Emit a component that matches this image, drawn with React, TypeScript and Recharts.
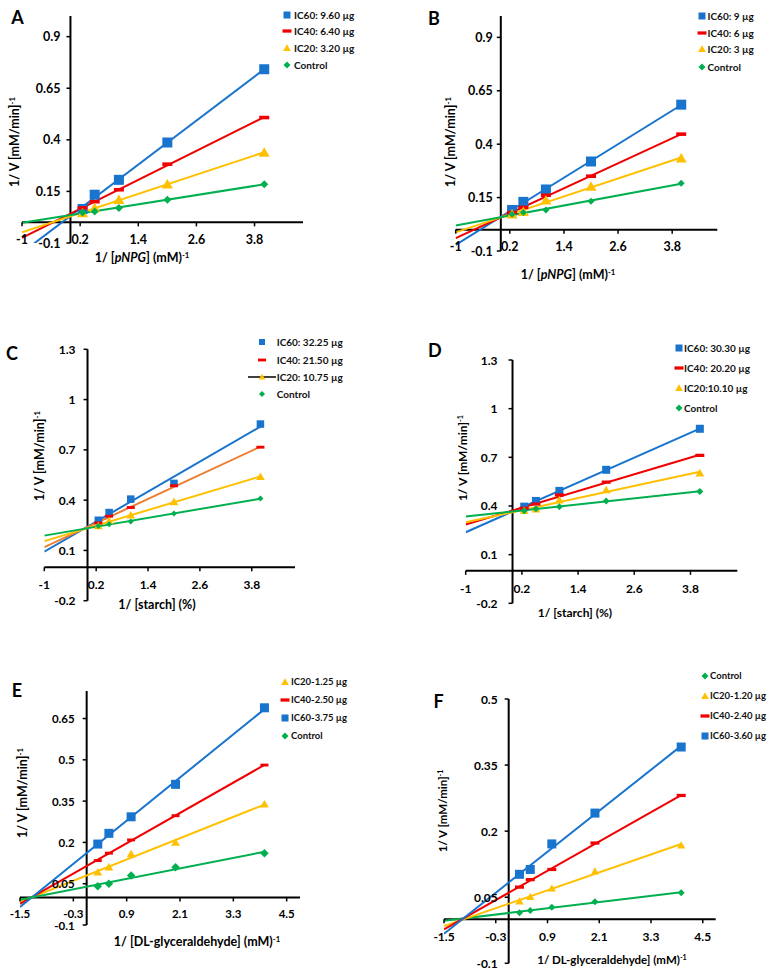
import React from 'react';
import { ComposedChart, XAxis, YAxis, Line, Scatter, ReferenceLine, ReferenceDot, Legend } from 'recharts';

// 1/[S] values used in every panel
const INV_CONC = [0.25, 0.5, 1, 2, 4];

// tick values
const X_TICKS_AD = [-1, 0.2, 1.4, 2.6, 3.8];
const X_TICKS_EF = [-1.5, -0.3, 0.9, 2.1, 3.3, 4.5];
const Y_TICKS_AB = [-0.1, 0.15, 0.4, 0.65, 0.9];
const Y_TICKS_CD = [-0.2, 0.1, 0.4, 0.7, 1, 1.3];
const Y_TICKS_E = [-0.1, 0.05, 0.2, 0.35, 0.5, 0.65];
const Y_TICKS_F = [-0.1, 0.05, 0.2, 0.35, 0.5];

// A - pNPG
const A_LABELS = ['IC60: 9.60 µg', 'IC40: 6.40 µg', 'IC20: 3.20 µg', 'Control'];
const A_IC60 = [0.065, 0.134, 0.206, 0.387, 0.742];
const A_IC40 = [0.07, 0.1, 0.158, 0.282, 0.508];
const A_IC20 = [0.045, 0.069, 0.11, 0.185, 0.339];
const A_CTRL = [0.048, 0.053, 0.069, 0.11, 0.185];

// B - pNPG
const B_LABELS = ['IC60: 9 µg', 'IC40: 6 µg', 'IC20: 3 µg', 'Control'];
const B_IC60 = [0.092, 0.13, 0.188, 0.319, 0.585];
const B_IC40 = [0.08, 0.104, 0.161, 0.25, 0.447];
const B_IC20 = [0.072, 0.084, 0.138, 0.202, 0.334];
const B_CTRL = [0.072, 0.08, 0.092, 0.133, 0.217];

// C - starch
const C_LABELS = ['IC60: 32.25 µg', 'IC40: 21.50 µg', 'IC20: 10.75 µg', 'Control'];
const C_IC60 = [0.28, 0.326, 0.406, 0.5, 0.854];
const C_IC40 = [0.264, 0.304, 0.356, 0.486, 0.716];
const C_IC20 = [0.246, 0.276, 0.31, 0.39, 0.54];
const C_CTRL = [0.246, 0.256, 0.272, 0.32, 0.41];

// D - starch
const D_LABELS = ['IC60: 30.30 µg', 'IC40: 20.20 µg', 'IC20:10.10 µg', 'Control'];
const D_IC60 = [0.396, 0.431, 0.493, 0.623, 0.876];
const D_IC40 = [0.386, 0.412, 0.468, 0.547, 0.712];
const D_IC20 = [0.371, 0.381, 0.437, 0.499, 0.603];
const D_CTRL = [0.371, 0.383, 0.396, 0.431, 0.489];

// E - DL-glyceraldehyde
const E_LABELS = ['IC20-1.25 µg', 'IC40-2.50 µg', 'IC60-3.75 µg', 'Control'];
const E_IC20 = [0.092, 0.11, 0.158, 0.2, 0.339];
const E_IC40 = [0.134, 0.161, 0.209, 0.297, 0.481];
const E_IC60 = [0.194, 0.233, 0.293, 0.411, 0.689];
const E_CTRL = [0.041, 0.05, 0.08, 0.11, 0.161];

// F - DL-glyceraldehyde
const F_LABELS = ['Control', 'IC20-1.20 µg', 'IC40-2.40 µg', 'IC60-3.60 µg'];
const F_CTRL = [0.015, 0.02, 0.027, 0.04, 0.06];
const F_IC20 = [0.041, 0.051, 0.07, 0.109, 0.168];
const F_IC40 = [0.073, 0.09, 0.113, 0.173, 0.281];
const F_IC60 = [0.102, 0.113, 0.171, 0.241, 0.391];

const BLUE = '#1874cd';
const RED = '#f00000';
const ORANGE = '#ed7d31';
const YELLOW = '#ffc000';
const GREEN = '#00b050';
const FONT = "Lato, 'Open Sans', sans-serif";

type Kind = 'square' | 'dash' | 'triangle' | 'diamond';

interface SeriesDef {
  label: string;
  ys: number[];
  color: string;
  lineColor: string;
  kind: Kind;
  size: number;
  legendLine?: boolean;
}

interface PanelDef {
  letter: string;
  left: number;
  top: number;
  w: number;
  h: number;
  plot: { l: number; r: number; t: number; b: number };
  xDomain: [number, number];
  yDomain: [number, number];
  xTicks: number[];
  yTicks: number[];
  tickFont: number;
  yGap: number;
  xDy: number;
  letterPos: [number, number];
  xTitle: React.ReactNode;
  xTitlePos: [number, number];
  yTitlePos: [number, number];
  titleFont: number;
  legend: { mx: number; tx: number; rows: number[]; font: number; msize: number };
  series: SeriesDef[];
}

const sup = (s: string) => (
  <span style={{ fontSize: '0.62em', verticalAlign: '0.55em', lineHeight: 1 }}>{s}</span>
);

const mk = (label: string, ys: number[], kind: Kind, size: number, color: string, lineColor = color): SeriesDef => ({
  label, ys, kind, size, color, lineColor,
});

const PANELS: PanelDef[] = [
  {
    letter: 'A', left: 0, top: 0, w: 384, h: 300,
    plot: { l: 22, r: 303, t: 16, b: 243 },
    xDomain: [-1, 4.8], yDomain: [-0.1, 1.0],
    xTicks: X_TICKS_AD, yTicks: Y_TICKS_AB,
    tickFont: 12.5, yGap: 10, xDy: 17,
    letterPos: [17.5, 17],
    xTitle: <>1/ [<i>pNPG</i>] (mM){sup('-1')}</>, xTitlePos: [142, 258],
    yTitlePos: [15, 142], titleFont: 12.5,
    legend: { mx: 287, tx: 294, rows: [15, 31.3, 48.3, 64.7], font: 10, msize: 7 },
    series: [
      mk(A_LABELS[0], A_IC60, 'square', 10, BLUE),
      mk(A_LABELS[1], A_IC40, 'dash', 10, RED),
      mk(A_LABELS[2], A_IC20, 'triangle', 10, YELLOW),
      mk(A_LABELS[3], A_CTRL, 'diamond', 8, GREEN),
    ],
  },
  {
    letter: 'B', left: 384, top: 0, w: 384, h: 300,
    plot: { l: 71.7, r: 333.3, t: 16, b: 251 },
    xDomain: [-1, 4.8], yDomain: [-0.1, 1.0],
    xTicks: X_TICKS_AD, yTicks: Y_TICKS_AB,
    tickFont: 12.5, yGap: 8, xDy: 17,
    letterPos: [50, 18],
    xTitle: <>1/ [<i>pNPG</i>] (mM){sup('-1')}</>, xTitlePos: [184, 275],
    yTitlePos: [67, 142], titleFont: 12.5,
    legend: { mx: 318.3, tx: 323.5, rows: [16, 33.3, 49.3, 66.7], font: 10, msize: 7 },
    series: [
      mk(B_LABELS[0], B_IC60, 'square', 10, BLUE),
      mk(B_LABELS[1], B_IC40, 'dash', 10, RED),
      mk(B_LABELS[2], B_IC20, 'triangle', 10, YELLOW),
      mk(B_LABELS[3], B_CTRL, 'diamond', 7, GREEN),
    ],
  },
  {
    letter: 'C', left: 0, top: 300, w: 384, h: 330,
    plot: { l: 44.3, r: 295, t: 49.3, b: 300.7 },
    xDomain: [-1, 4.8], yDomain: [-0.2, 1.3],
    xTicks: X_TICKS_AD, yTicks: Y_TICKS_CD,
    tickFont: 12, yGap: 12, xDy: 17,
    letterPos: [12, 53],
    xTitle: <>1/ [starch] (%)</>, xTitlePos: [157, 305],
    yTitlePos: [40, 156], titleFont: 12.5,
    legend: { mx: 261.7, tx: 276.7, rows: [42.3, 60, 77.3, 94], font: 10, msize: 6 },
    series: [
      mk(C_LABELS[0], C_IC60, 'square', 7.5, BLUE),
      mk(C_LABELS[1], C_IC40, 'dash', 8, RED, ORANGE),
      { ...mk(C_LABELS[2], C_IC20, 'triangle', 8, YELLOW), legendLine: true },
      mk(C_LABELS[3], C_CTRL, 'diamond', 6, GREEN),
    ],
  },
  {
    letter: 'D', left: 384, top: 300, w: 384, h: 330,
    plot: { l: 81.7, r: 353.3, t: 60, b: 303.3 },
    xDomain: [-1, 4.8], yDomain: [-0.2, 1.3],
    xTicks: X_TICKS_AD, yTicks: Y_TICKS_CD,
    tickFont: 12, yGap: 15, xDy: 18,
    letterPos: [50.8, 50],
    xTitle: <>1/ [starch] (%)</>, xTitlePos: [191, 313],
    yTitlePos: [78.7, 157.5], titleFont: 12,
    legend: { mx: 295, tx: 300, rows: [47.7, 68.3, 88.3, 108.3], font: 10, msize: 7 },
    series: [
      mk(D_LABELS[0], D_IC60, 'square', 8, BLUE),
      mk(D_LABELS[1], D_IC40, 'dash', 9, RED),
      mk(D_LABELS[2], D_IC20, 'triangle', 8, YELLOW),
      mk(D_LABELS[3], D_CTRL, 'diamond', 7, GREEN),
    ],
  },
  {
    letter: 'E', left: 0, top: 630, w: 384, h: 346,
    plot: { l: 20, r: 300, t: 61, b: 295 },
    xDomain: [-1.5, 4.8], yDomain: [-0.1, 0.75],
    xTicks: X_TICKS_EF, yTicks: Y_TICKS_E,
    tickFont: 11.5, yGap: 12, xDy: 16,
    letterPos: [17, 60],
    xTitle: <>1/ [DL-glyceraldehyde] (mM){sup('-1')}</>, xTitlePos: [197, 312],
    yTitlePos: [23, 163], titleFont: 12.5,
    legend: { mx: 285, tx: 291, rows: [51.7, 70, 88.3, 106], font: 9.5, msize: 7 },
    series: [
      mk(E_LABELS[0], E_IC20, 'triangle', 8, YELLOW),
      mk(E_LABELS[1], E_IC40, 'dash', 8, RED),
      mk(E_LABELS[2], E_IC60, 'square', 9, BLUE),
      mk(E_LABELS[3], E_CTRL, 'diamond', 8.5, GREEN),
    ],
  },
  {
    letter: 'F', left: 384, top: 630, w: 384, h: 346,
    plot: { l: 60, r: 331.7, t: 69, b: 333.3 },
    xDomain: [-1.5, 4.8], yDomain: [-0.1, 0.5],
    xTicks: X_TICKS_EF, yTicks: Y_TICKS_F,
    tickFont: 12, yGap: 11, xDy: 17,
    letterPos: [54.7, 70.8],
    xTitle: <>1/ DL-glyceraldehyde] (mM){sup('-1')}</>, xTitlePos: [228, 330],
    yTitlePos: [59.3, 180.8], titleFont: 11.5,
    legend: { mx: 320.7, tx: 326, rows: [46, 66, 86, 106], font: 9.5, msize: 7 },
    series: [
      mk(F_LABELS[0], F_CTRL, 'diamond', 7, GREEN),
      mk(F_LABELS[1], F_IC20, 'triangle', 7.5, YELLOW),
      mk(F_LABELS[2], F_IC40, 'dash', 9, RED),
      mk(F_LABELS[3], F_IC60, 'square', 9, BLUE),
    ],
  },
];

// least-squares trendline, extended back to the left edge of the x axis
function trend(xs: number[], ys: number[], x0: number) {
  const n = xs.length;
  const mx = xs.reduce((a, b) => a + b, 0) / n;
  const my = ys.reduce((a, b) => a + b, 0) / n;
  let sxy = 0;
  let sxx = 0;
  xs.forEach((x, i) => {
    sxy += (x - mx) * (ys[i] - my);
    sxx += (x - mx) * (x - mx);
  });
  const b = sxy / sxx;
  const a = my - b * mx;
  const x1 = xs[n - 1];
  return [{ x: x0, y: a + b * x0 }, { x: x1, y: a + b * x1 }];
}

function Glyph({ kind, cx, cy, size, color }: { kind: Kind; cx: number; cy: number; size: number; color: string }) {
  const h = size / 2;
  if (kind === 'square') return <rect x={cx - h} y={cy - h} width={size} height={size} fill={color} />;
  if (kind === 'dash') return <rect x={cx - h} y={cy - size * 0.18} width={size} height={size * 0.36} fill={color} />;
  if (kind === 'triangle')
    return <polygon points={`${cx},${cy - h * 1.05} ${cx + h * 1.1},${cy + h * 0.85} ${cx - h * 1.1},${cy + h * 0.85}`} fill={color} />;
  return <polygon points={`${cx},${cy - h} ${cx + h},${cy} ${cx},${cy + h} ${cx - h},${cy}`} fill={color} />;
}

const markerShape = (s: SeriesDef) => (props: any) => (
  <Glyph kind={s.kind} cx={props.cx} cy={props.cy} size={s.size} color={s.color} />
);

const xTickShape = (label: string, p: PanelDef) => (props: any) => (
  <g>
    <line x1={props.cx} y1={props.cy} x2={props.cx} y2={props.cy + 4} stroke="#000" strokeWidth={1.5} />
    <text x={props.cx} y={props.cy + p.xDy} textAnchor="middle" dominantBaseline="central"
      fontFamily={FONT} fontWeight={700} fontSize={p.tickFont} fill="#000">{label}</text>
  </g>
);

const yTickShape = (label: string, p: PanelDef) => (props: any) => (
  <g>
    <line x1={props.cx - 4} y1={props.cy} x2={props.cx} y2={props.cy} stroke="#000" strokeWidth={1.5} />
    <text x={props.cx - p.yGap} y={props.cy} textAnchor="end" dominantBaseline="central"
      fontFamily={FONT} fontWeight={700} fontSize={p.tickFont} fill="#000">{label}</text>
  </g>
);

function PanelLegend({ p }: { p: PanelDef }) {
  const lg = p.legend;
  return (
    <div style={{ position: 'relative', width: p.w, height: p.h }}>
      {p.series.map((s, i) => (
        <div key={s.label}>
          <svg style={{ position: 'absolute', left: lg.mx - 16, top: lg.rows[i] - 8 }} width={32} height={16}>
            {s.legendLine && <line x1={2} y1={8} x2={30} y2={8} stroke="#000" strokeWidth={1.5} />}
            <Glyph kind={s.kind} cx={16} cy={8} size={lg.msize + (s.kind === 'dash' ? 2 : 0)} color={s.color} />
          </svg>
          <div style={{
            position: 'absolute', left: lg.tx, top: lg.rows[i], transform: 'translateY(-50%)',
            fontFamily: FONT, fontWeight: 700, fontSize: lg.font, whiteSpace: 'nowrap', lineHeight: 1, color: '#111',
          }}>{s.label}</div>
        </div>
      ))}
    </div>
  );
}

function Panel({ p }: { p: PanelDef }) {
  const titleStyle: React.CSSProperties = {
    position: 'absolute', fontFamily: FONT, fontWeight: 700, fontSize: p.titleFont,
    whiteSpace: 'nowrap', lineHeight: 1, color: '#000',
  };
  return (
    <div style={{ position: 'absolute', left: p.left, top: p.top, width: p.w, height: p.h }}>
      <ComposedChart width={p.w} height={p.h}
        margin={{ left: p.plot.l, right: p.w - p.plot.r, top: p.plot.t, bottom: p.h - p.plot.b }}>
        <XAxis type="number" dataKey="x" domain={p.xDomain} hide allowDataOverflow />
        <YAxis type="number" dataKey="y" domain={p.yDomain} hide allowDataOverflow />
        <ReferenceLine x={0} stroke="#000" strokeWidth={2} />
        <ReferenceLine y={0} stroke="#000" strokeWidth={2} />
        {p.xTicks.map((t) => (
          <ReferenceDot key={`x${t}`} x={t} y={0} r={0} shape={xTickShape(String(t), p)} />
        ))}
        {p.yTicks.map((t) => (
          <ReferenceDot key={`y${t}`} x={0} y={t} r={0} shape={yTickShape(String(t), p)} />
        ))}
        {p.series.map((s) => (
          <Line key={`l${s.label}`} data={trend(INV_CONC, s.ys, p.xDomain[0])} dataKey="y" type="linear"
            stroke={s.lineColor} strokeWidth={2} dot={false} activeDot={false} isAnimationActive={false} legendType="none" />
        ))}
        {p.series.map((s) => (
          <Scatter key={`s${s.label}`} name={s.label} data={INV_CONC.map((x, i) => ({ x, y: s.ys[i] }))}
            dataKey="y" shape={markerShape(s)} isAnimationActive={false} />
        ))}
        <Legend layout="vertical" align="center" verticalAlign="middle"
          wrapperStyle={{ left: 0, top: 0, width: p.w, height: p.h, pointerEvents: 'none' }}
          content={() => <PanelLegend p={p} />} />
      </ComposedChart>
      <div style={{ ...titleStyle, fontSize: 18, left: p.letterPos[0], top: p.letterPos[1], transform: 'translate(-50%,-50%)' }}>
        {p.letter}
      </div>
      <div style={{ ...titleStyle, left: p.xTitlePos[0], top: p.xTitlePos[1], transform: 'translate(-50%,-50%)' }}>
        {p.xTitle}
      </div>
      <div style={{ ...titleStyle, left: p.yTitlePos[0], top: p.yTitlePos[1], transform: 'translate(-50%,-50%) rotate(-90deg)' }}>
        1/ V [mM/min]{sup('-1')}
      </div>
    </div>
  );
}

export default function App() {
  return (
    <div style={{ position: 'absolute', left: 0, top: 0, width: 768, height: 976, background: '#fff' }}>
      {PANELS.map((p) => (
        <Panel key={p.letter} p={p} />
      ))}
    </div>
  );
}
